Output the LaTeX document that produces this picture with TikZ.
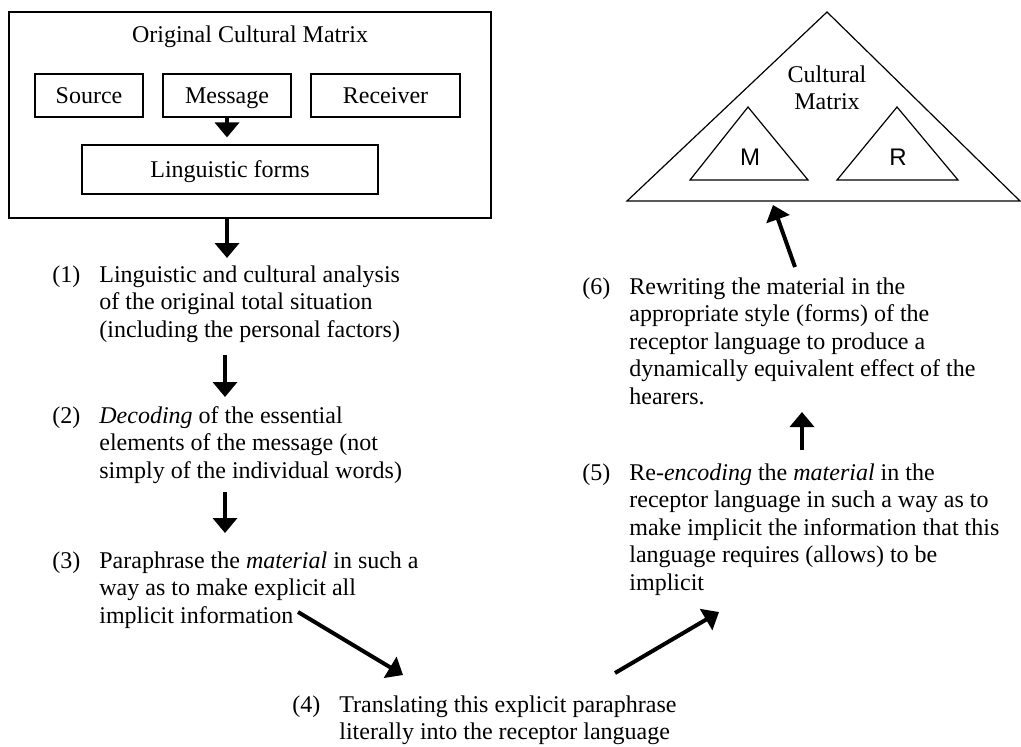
\documentclass[tikz,border=0pt]{standalone}
\usepackage{fontspec}
\setmainfont{Liberation Serif}
\setsansfont{Liberation Sans}
\usetikzlibrary{arrows.meta,calc}

\tikzset{
  boxnode/.style={draw,line width=0.6pt,inner sep=0pt,text height=8.5pt,text depth=1pt},
  steptext/.style={anchor=base west,inner sep=0pt},
  flow/.style={line width=2pt,-{Triangle[length=7.5pt,width=12pt]}},
  tri/.style={line width=0.6pt,line join=miter},
}

\begin{document}
\begin{tikzpicture}[x=0.5pt,y=-0.5pt,font=\fontsize{12}{13.8}\selectfont]
\useasboundingbox (0,0) rectangle (1021,746);

% original cultural matrix
\node[boxnode,line width=0.8pt,minimum width=241pt,minimum height=103pt] (ocm) at (250,115) {};
\node[anchor=base,inner sep=0pt] (title) at (250,42) {Original Cultural Matrix};
\node[boxnode,minimum width=54pt,minimum height=21.5pt] (src) at (89,95.5) {Source};
\node[boxnode,minimum width=64pt,minimum height=21.5pt] (msg) at (227,95.5) {Message};
\node[boxnode,minimum width=74.5pt,minimum height=21.5pt] (rcv) at (385.5,95.5) {Receiver};
\node[boxnode,minimum width=148pt,minimum height=24.5pt] (lf) at (230,169.5) {Linguistic forms};

% receptor cultural matrix
\draw[tri] (627,201) -- (827,12) -- (1020,201) -- cycle;
\draw[tri] (690,180) -- (748,107) -- (808,180) -- cycle;
\draw[tri] (837,180) -- (897,107) -- (958,180) -- cycle;
\node[anchor=base,inner sep=0pt] (cm) at (827,82) {\begin{tabular}[t]{@{}c@{}}Cultural\\Matrix\end{tabular}};
\node[font=\fontsize{12}{13.8}\sffamily\selectfont] (m) at (750,157) {M};
\node[font=\fontsize{12}{13.8}\sffamily\selectfont] (r) at (898,157) {R};

% steps
\foreach \n/\x/\y/\txt in {
  s1/52/282/{(1) & Linguistic and cultural analysis\\ & of the original total situation\\ & (including the personal factors)},
  s2/52/423/{(2) & \emph{Decoding} of the essential\\ & elements of the message (not\\ & simply of the individual words)},
  s3/52/568/{(3) & Paraphrase the \emph{material} in such a\\ & way as to make explicit all\\ & implicit information},
  s4/292/712/{(4) & Translating this explicit paraphrase\\ & literally into the receptor language},
  s5/582/480/{(5) & Re-\emph{encoding} the \emph{material} in the\\ & receptor language in such a way as to\\ & make implicit the information that this\\ & language requires (allows) to be\\ & implicit},
  s6/582/294/{(6) & Rewriting the material in the\\ & appropriate style (forms) of the\\ & receptor language to produce a\\ & dynamically equivalent effect of the\\ & hearers.}}
  \node[steptext] (\n) at (\x,\y) {\begin{tabular}[t]{@{}p{23.5pt}@{}l@{}}\txt\end{tabular}};

% arrow ends
\foreach \c/\x/\y in {b1/227/258, b2/225/355, e2/225/397, b3/225/492, e3/225/533,
  b4/298/612, e4/403/675, b5/615/673, e5/719/612, b6/802/450, e6/802/412,
  b7/795/267, e7/773/205}
  \coordinate (\c) at (\x,\y);

\draw[flow] (msg.south) -- (lf.north -| msg.south) [shorten >=3.5pt];
\draw[flow] (ocm.south -| msg.south) -- (b1);
\foreach \a/\b in {b2/e2, b3/e3, b4/e4, b5/e5, b6/e6, b7/e7}
  \draw[flow] (\a) -- (\b);
\end{tikzpicture}
\end{document}
